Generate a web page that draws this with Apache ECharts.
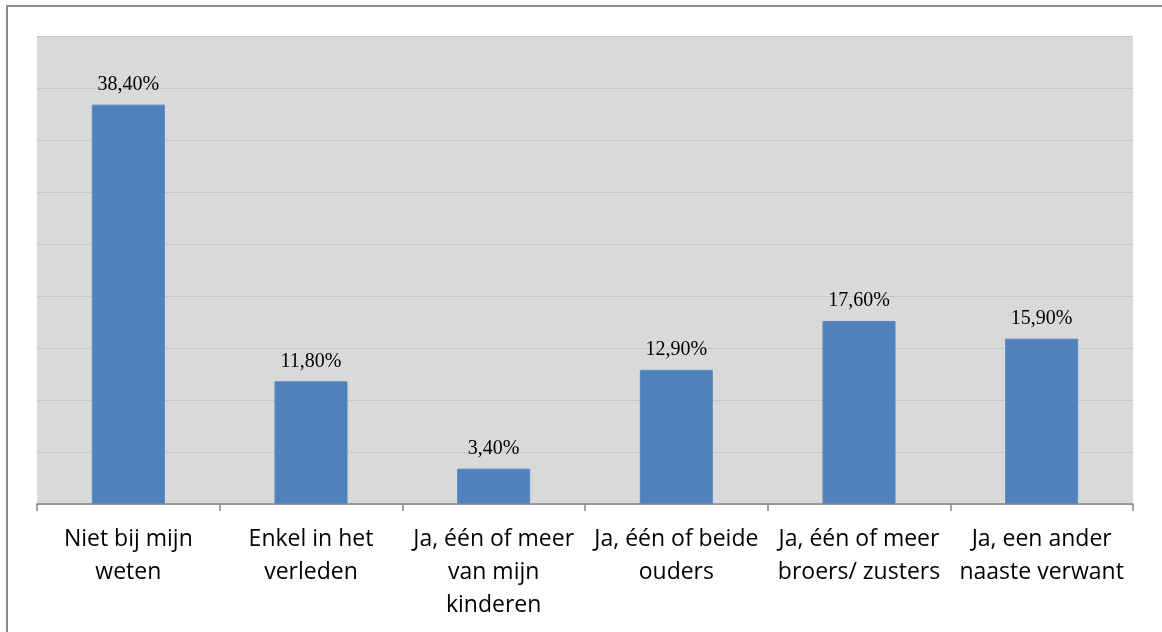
<!DOCTYPE html>
<html>
<head>
<meta charset="utf-8">
<title>Familie</title>
<script src="https://cdn.jsdelivr.net/npm/echarts@6/dist/echarts.min.js"></script>
<style>
html, body { margin: 0; padding: 0; background: #fff; }
#frame { position: absolute; left: 6px; top: 5px; width: 1200px; height: 700px; border-top: 2px solid #8c8c8c; border-left: 2px solid #8c8c8c; }
#container { position: absolute; left: 0; top: 0; width: 1162px; height: 632px; }
</style>
</head>
<body>
<div id="frame"></div>
<div id="container"></div>
<script type="text/javascript">
// categorieen en percentages
var categories = [
    'Niet bij mijn\nweten',
    'Enkel in het\nverleden',
    'Ja, één of meer\nvan mijn\nkinderen',
    'Ja, één of beide\nouders',
    'Ja, één of meer\nbroers/ zusters',
    'Ja, een ander\nnaaste verwant'
];
var values = [38.4, 11.8, 3.4, 12.9, 17.6, 15.9];

var myChart = echarts.init(document.getElementById('container'));

var option = {
    animation: false,
    grid: {
        left: 37,
        right: 29,
        top: 36,
        bottom: 128,
        show: true,
        backgroundColor: '#d9d9d9',
        borderWidth: 0
    },
    xAxis: {
        type: 'category',
        data: categories,
        axisLine: { lineStyle: { color: '#878787', width: 1.5 } },
        axisTick: { show: true, length: 7, alignWithLabel: false, lineStyle: { color: '#878787', width: 1.5 } },
        axisLabel: {
            interval: 0,
            margin: 19,
            color: '#000',
            fontFamily: 'Open Sans',
            fontSize: 23,
            lineHeight: 33
        }
    },
    yAxis: {
        type: 'value',
        min: 0,
        max: 45,
        interval: 5,
        axisLabel: { show: false },
        axisLine: { show: false },
        axisTick: { show: false },
        splitLine: { lineStyle: { color: '#c6c6c6', width: 1 } }
    },
    series: [
        {
            type: 'bar',
            data: values,
            barWidth: '40%',
            itemStyle: { color: '#4f81bd', borderColor: '#5a8ac4', borderWidth: 1 },
            label: {
                show: true,
                position: 'top',
                distance: 10,
                color: '#000',
                fontFamily: 'Liberation Serif',
                fontSize: 20,
                formatter: function (p) {
                    return p.value.toFixed(2).replace('.', ',') + '%';
                }
            }
        }
    ]
};

myChart.setOption(option);
</script>
</body>
</html>
